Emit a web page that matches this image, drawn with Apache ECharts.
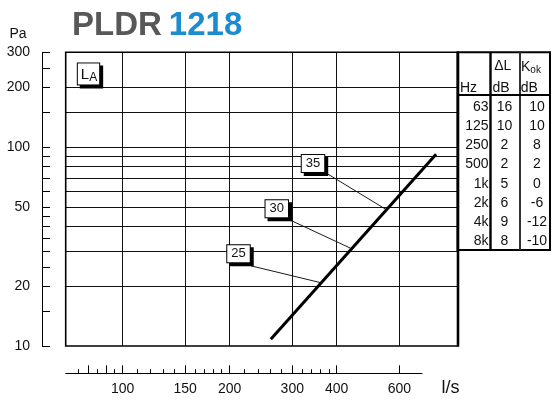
<!DOCTYPE html>
<html>
<head>
<meta charset="utf-8">
<script src="https://cdn.jsdelivr.net/npm/echarts@6/dist/echarts.min.js"></script>
<style>html,body{margin:0;padding:0;background:#fff;}#c{width:554px;height:402px;}</style>
</head>
<body>
<div id="c"></div>
<script>
// ---- data ----
const titleModel = 'PLDR';
const titleSize = '1218';
const yTicks = [300, 250, 200, 150, 100, 90, 80, 70, 60, 50, 45, 40, 35, 30, 25, 20, 15, 10];
const yLabels = [300, 200, 100, 50, 20, 10];
const yGrid = [200, 150, 100, 90, 80, 70, 60, 50, 40, 30, 20];
const xGrid = [100, 150, 200, 300, 400, 600];
const xMinorTicks = [75, 85, 95, 110, 120, 130, 140, 160, 170, 180, 190, 220, 240, 260, 280, 320, 340, 360, 380];
const xMajorTicks = [80, 90, 100, 150, 200, 300, 400, 600];
const xLabels = [100, 150, 200, 300, 400, 600];
const flowX = [261, 761];          // l/s
const pressureY = [10.8, 92.1];    // Pa
const soundLabels = ['25', '30', '35'];
const soundLabelX = [211.8, 271.3, 343];
const soundLabelY = [29.1, 49.0, 82.8];
const leaderStartX = [229.7, 295.7, 373];
const leaderStartY = [25.3, 43.0, 74.2];
const leaderEndX = [361.4, 438, 549.5];
const leaderEndY = [20.8, 31.0, 48.7];
const tableHz = ['63', '125', '250', '500', '1k', '2k', '4k', '8k'];
const tableDL = ['16', '10', '2', '2', '5', '6', '9', '8'];
const tableKok = ['10', '10', '8', '2', '0', '-6', '-12', '-10'];

const FONT = '"Liberation Sans", Arial, Helvetica, sans-serif';

// ---- layout ----
const G = {left: 65.7, top: 52.3, width: 392.3, height: 293.7};
const XMIN = 69.2, XMAX = 877;
const AX = {left: 65.7, width: 356.3, top: 360, height: 13.3};
const AXMAX = XMIN * Math.pow(10, AX.width / (G.width / Math.log10(XMAX / XMIN)));

function txt(text, x, y, align, vAlign, size, extra) {
  return Object.assign({
    type: 'text', x: x, y: y, silent: true, z: 100,
    style: {text: text, font: (size || 14) + 'px ' + FONT, fontSize: size || 14, fontFamily: FONT,
      fill: '#111', align: align, textAlign: align, verticalAlign: vAlign, textVerticalAlign: vAlign}
  }, extra || {});
}
function ln(x1, y1, x2, y2, w, c) {
  return {type: 'line', silent: true, z: 99, shape: {x1, y1, x2, y2}, style: {stroke: c || '#000', lineWidth: w}};
}

// table
const T = {l: 457.5, t: 52.3, r: 550, b: 250, c1: 490.5, c2: 520, hdr: 95};
const graphics = [];
graphics.push({type: 'rect', silent: true, z: 98, shape: {x: T.l, y: T.t, width: T.r - T.l, height: T.b - T.t},
  style: {fill: '#fff', stroke: '#000', lineWidth: 2}});
graphics.push(ln(458, 52, 458, 346.5, 2.6));
graphics.push(ln(T.c1, T.t, T.c1, T.b, 2.4));
graphics.push(ln(T.c2, T.t, T.c2, T.b, 2, '#333'));
graphics.push(ln(T.l, T.hdr, T.r, T.hdr, 2));
graphics.push(txt('\u0394L', 502.7, 66.5, 'center', 'middle', 14));
graphics.push({type: 'text', x: 521, y: 67.5, silent: true, z: 100,
  style: {text: '{k|K}{s|ok}', verticalAlign: 'middle', textVerticalAlign: 'middle', align: 'left', textAlign: 'left',
    rich: {k: {fontSize: 14, fontFamily: FONT, fill: '#111', color: '#111', lineHeight: 16},
           s: {fontSize: 10, fontFamily: FONT, fill: '#111', color: '#111', lineHeight: 16, verticalAlign: 'bottom', padding: [5, 0, 0, 0]}}}});
graphics.push(txt('Hz', 460, 87.7, 'left', 'middle', 14));
graphics.push(txt('dB', 492.5, 87.7, 'left', 'middle', 14));
graphics.push(txt('dB', 520.7, 87.7, 'left', 'middle', 14));
for (let i = 0; i < tableHz.length; i++) {
  const y = 107 + i * 19.2;
  graphics.push(txt(tableHz[i], 488.5, y, 'right', 'middle', 14));
  graphics.push(txt(tableDL[i], 504.5, y, 'center', 'middle', 14));
  graphics.push(txt(tableKok[i], 537, y, 'center', 'middle', 14));
}
graphics.push(txt('Pa', 18, 34.5, 'center', 'middle', 14));
graphics.push(txt('l/s', 450.5, 388.5, 'center', 'middle', 18));

const markData = xGrid.map(v => ({xAxis: v})).concat(yGrid.map(v => ({yAxis: v})));

const series = [
  {
    type: 'line', xAxisIndex: 0, yAxisIndex: 0, data: [[100, 10]], showSymbol: false, symbol: 'none',
    lineStyle: {width: 0}, silent: true, z: 1,
    markLine: {silent: true, symbol: ['none', 'none'], label: {show: false}, animation: false,
      lineStyle: {color: '#111', width: 1, type: 'solid'}, data: markData}
  },
  {
    type: 'line', xAxisIndex: 0, yAxisIndex: 0, z: 5,
    data: flowX.map((x, i) => [x, pressureY[i]]), symbol: 'none',
    lineStyle: {color: '#000', width: 3, cap: 'butt'}
  }
];
for (let i = 0; i < soundLabels.length; i++) {
  series.push({
    type: 'line', xAxisIndex: 0, yAxisIndex: 0, z: 4, symbol: 'none',
    data: [[leaderStartX[i], leaderStartY[i]], [leaderEndX[i], leaderEndY[i]]],
    lineStyle: {color: '#000', width: 0.9}
  });
}
const boxLabel = {
  backgroundColor: '#fff', borderColor: '#000', borderWidth: 1, opacity: 1,
  shadowColor: '#000', shadowOffsetX: 3, shadowOffsetY: 3, shadowBlur: 0
};
series.push({
  type: 'scatter', xAxisIndex: 0, yAxisIndex: 0, z: 10, symbolSize: 0,
  itemStyle: {opacity: 1},
  data: soundLabels.map((t, i) => [soundLabelX[i], soundLabelY[i], t]),
  label: Object.assign({show: true, position: 'inside', formatter: p => p.value[2], fontSize: 13, fontFamily: FONT, color: '#111',
    padding: [2, 4, 1, 4], lineHeight: 14}, boxLabel)
});
series.push({
  type: 'scatter', xAxisIndex: 0, yAxisIndex: 0, z: 10, symbolSize: 0,
  itemStyle: {opacity: 1},
  data: [[80.2, 233.5, 'LA']],
  label: Object.assign({show: true, position: 'inside', formatter: '{l|L}{a|A}', padding: [2, 2, 1, 3],
    rich: {l: {fontSize: 15, fontFamily: FONT, color: '#111', lineHeight: 18},
           a: {fontSize: 12, fontFamily: FONT, color: '#111', lineHeight: 18, padding: [6, 0, 0, 0]}}}, boxLabel)
});

const chart = echarts.init(document.getElementById('c'), null, {renderer: 'canvas'});
chart.setOption({
  animation: false,
  backgroundColor: '#fff',
  title: {
    text: '{a|' + titleModel + '} {b|' + titleSize + '}', left: 67, top: 5.2,
    textStyle: {rich: {
      a: {fontSize: 33, fontWeight: 'bold', fontFamily: FONT, color: '#585858', lineHeight: 32},
      b: {fontSize: 33, fontWeight: 'bold', fontFamily: FONT, color: '#1b8ccd', lineHeight: 32, padding: [0, 0, 0, 2]}}}
  },
  grid: [
    {left: G.left, top: G.top, width: G.width, height: G.height, show: true, borderColor: '#000', borderWidth: 1.6, backgroundColor: 'transparent', z: 6},
    {left: AX.left, top: AX.top, width: AX.width, height: AX.height, show: false}
  ],
  xAxis: [
    {type: 'log', gridIndex: 0, min: XMIN, max: XMAX, show: false},
    {type: 'log', gridIndex: 1, min: XMIN, max: AXMAX, position: 'bottom',
      axisLine: {show: true, lineStyle: {color: '#000', width: 1}},
      axisTick: {show: true, inside: true, length: 4, customValues: xMinorTicks, lineStyle: {color: '#000', width: 1}},
      axisLabel: {show: true, customValues: xLabels, margin: 9, fontSize: 14, fontFamily: FONT, color: '#111',
        formatter: v => String(Math.round(v))},
      splitLine: {show: false}, minorTick: {show: false}},
    {type: 'log', gridIndex: 1, min: XMIN, max: AXMAX, position: 'bottom',
      axisLine: {show: false},
      axisTick: {show: true, inside: true, length: 8, customValues: xMajorTicks, lineStyle: {color: '#000', width: 1}},
      axisLabel: {show: false}, splitLine: {show: false}}
  ],
  yAxis: [
    {type: 'log', gridIndex: 0, min: 10, max: 300, position: 'left', offset: G.left - 42,
      axisLine: {show: true, lineStyle: {color: '#000', width: 1}},
      axisTick: {show: true, inside: true, length: 8, customValues: yTicks, lineStyle: {color: '#000', width: 1}},
      axisLabel: {show: true, customValues: yLabels, margin: 12, fontSize: 14, fontFamily: FONT, color: '#111',
        formatter: v => String(Math.round(v))},
      splitLine: {show: false}},
    {type: 'value', gridIndex: 1, show: false}
  ],
  graphic: graphics,
  series: series
});
</script>
</body>
</html>
